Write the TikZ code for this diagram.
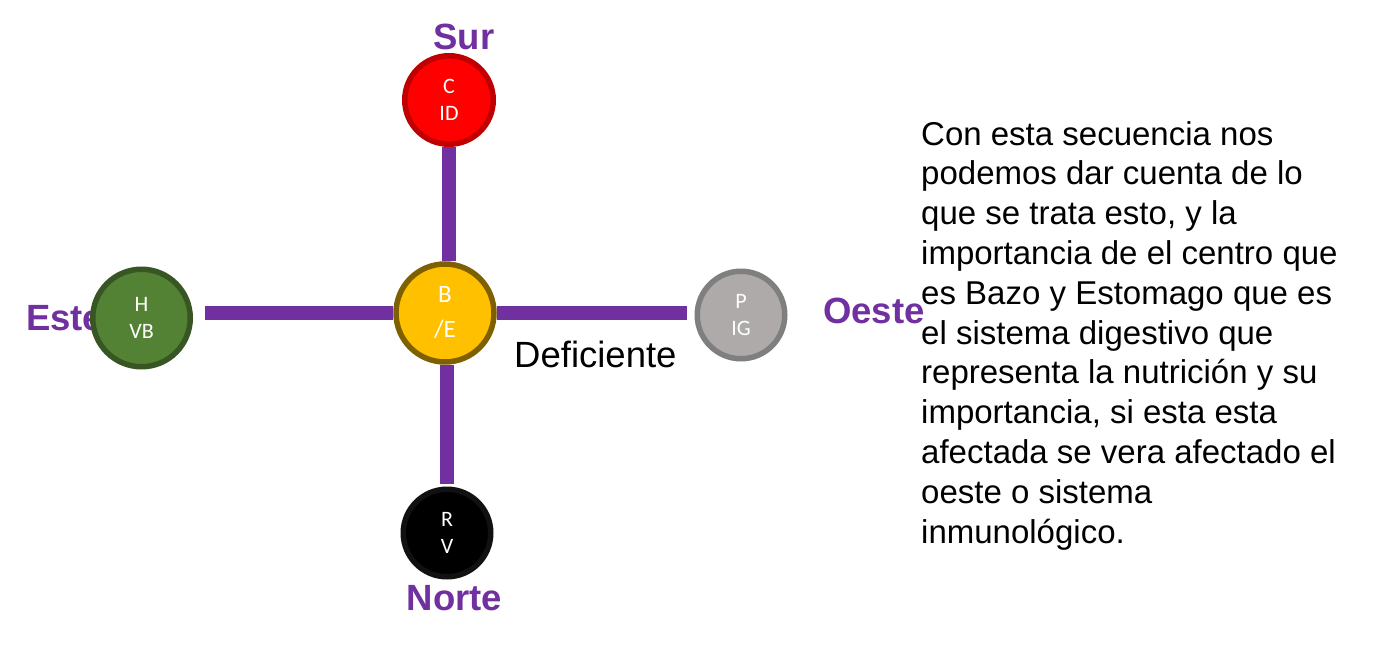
\documentclass[tikz,border=0pt]{standalone}
\usepackage{fontspec}
\setmainfont{Liberation Sans}
\newfontfamily\carlfont{Carlito}
\definecolor{lpurple}{HTML}{7030A0}
\definecolor{cred}{HTML}{FF0000}
\definecolor{cdred}{HTML}{C00000}
\definecolor{cgreen}{HTML}{548235}
\definecolor{cdgreen}{HTML}{375623}
\definecolor{cgold}{HTML}{FFC000}
\definecolor{cdgold}{HTML}{7F6000}
\definecolor{cgray}{HTML}{AEAAAA}
\definecolor{cdgray}{HTML}{7F7F7F}
\definecolor{cdblack}{HTML}{111111}
\tikzset{
  organ/.style={circle, line width=5.5bp, inner sep=0pt, text=white, align=center,
    font=\carlfont\fontsize{22bp}{26.5bp}\selectfont},
  conn/.style={draw=lpurple, line width=14bp},
  dirlabel/.style={text=lpurple, inner sep=0pt, font=\bfseries\fontsize{36.5bp}{40bp}\selectfont},
}
\begin{document}
\begin{tikzpicture}[x=1bp,y=-1bp]
\path[use as bounding box] (0,0) rectangle (1375,645);
% direction labels drawn first (circles may cover them)
\node[dirlabel, anchor=base] (tsur) at (464,50) {Sur};
\node[dirlabel, anchor=base west] (teste) at (26,330) {Este};
\node[dirlabel, anchor=base west] (toeste) at (823,323) {Oeste};
\node[dirlabel, anchor=base] (tnorte) at (454.5,610) {Norte};
% circles
\node[organ, fill=cred, draw=cdred, minimum size=88.5bp] (sur) at (449,100) {C\\ID};
\node[organ, fill=cgreen, draw=cdgreen, minimum size=97.5bp] (este) at (141.5,318) {H\\VB};
\node[organ, fill=cgold, draw=cdgold, minimum size=98bp,
  font=\carlfont\fontsize{25bp}{35bp}\selectfont] (be) at (445,313) {B\\/E};
\node[organ, fill=cgray, draw=cdgray, minimum size=87.5bp] (pig) at (741,315) {P\\IG};
\node[organ, fill=black, draw=cdblack, minimum size=87.5bp] (rv) at (447,533) {R\\V};
% connectors
\draw[conn] (sur.south) -- (sur.south |- be.north);
\draw[conn, shorten >=3bp] (be.south -| rv.north) -- (rv.north);
\draw[conn, shorten <=12bp] (este.east |- be.west) -- (be.west);
\draw[conn, shorten >=8bp] (be.east) -- (be.east -| pig.west);
% texts
\node[anchor=base west, inner sep=0pt, font=\fontsize{36.5bp}{40bp}\selectfont] (def) at (514,367) {Deficiente};
\node[anchor=north west, inner sep=0pt, align=left,
  font=\fontsize{33bp}{39.8bp}\selectfont] (para) at (921,121) {Con esta secuencia nos\\
podemos dar cuenta de lo\\
que se trata esto, y la\\
importancia de el centro que\\
es Bazo y Estomago que es\\
el sistema digestivo que\\
representa la nutrición y su\\
importancia, si esta esta\\
afectada se vera afectado el\\
oeste o sistema\\
inmunológico.};
\end{tikzpicture}
\end{document}
